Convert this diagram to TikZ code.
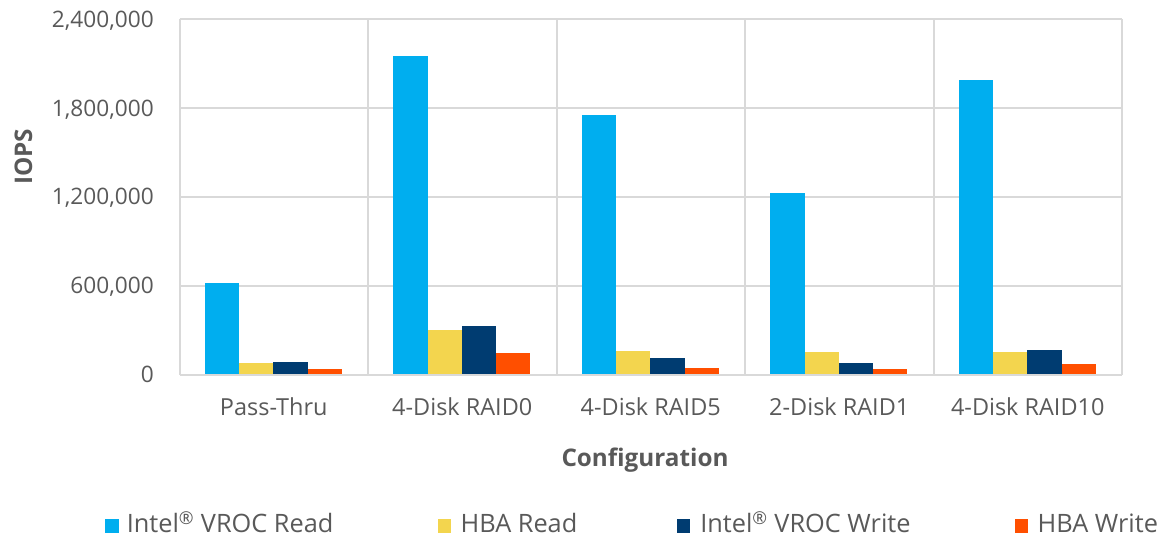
\documentclass[tikz,border=0pt]{standalone}
\usepackage{fontspec}
\setmainfont{Open Sans}
\definecolor{cblue}{HTML}{00AEEF}
\definecolor{cyellow}{HTML}{F3D54E}
\definecolor{cnavy}{HTML}{003C71}
\definecolor{corange}{HTML}{FF4F00}
\definecolor{cgrid}{HTML}{D9D9D9}
\definecolor{ctext}{HTML}{595959}
\begin{document}
\begin{tikzpicture}[x=0.75pt,y=-0.75pt,
  gridline/.style={draw=cgrid,line width=1.5pt},
  ticklbl/.style={anchor=base east,inner sep=0pt,text=ctext,font=\fontsize{17}{20}\selectfont},
  catlbl/.style={anchor=base,inner sep=0pt,text=ctext,font=\fontsize{17.6}{20}\selectfont},
  axtitle/.style={anchor=base,inner sep=0pt,text=ctext,font=\fontsize{18.2}{22}\selectfont\bfseries},
  legtext/.style={anchor=base west,inner sep=0pt,text depth=0pt,text=ctext,font=\fontsize{19}{22}\selectfont},
  legsq/.style={inner sep=0pt,minimum width=10.1pt,minimum height=10.1pt,anchor=north west}]
\useasboundingbox (0,0) rectangle (1161,537);
% horizontal gridlines
\foreach \y in {19,107.9,196.7,285.6} \draw[gridline] (179.5,\y) -- (1122,\y);
% vertical dividers
\foreach \i in {0,...,5} \draw[gridline] (179.5+188.5*\i,19) -- (179.5+188.5*\i,374.5);
% bars (values in thousands)
\foreach \a/\b/\c/\d [count=\i from 0] in {619/76/83/35, 2154/301/328/143, 1755/157/110/44, 1228/152/80/35, 1992/150/166/71}{
  \pgfmathsetmacro{\xo}{179.5+188.5*\i+25.2}
  \fill[cblue]   (\xo,374.5) rectangle ++(34.3,-\a*0.148);
  \fill[cyellow] (\xo+34.3,374.5) rectangle ++(34.3,-\b*0.148);
  \fill[cnavy]   (\xo+68.6,374.5) rectangle ++(34.3,-\c*0.148);
  \fill[corange] (\xo+102.9,374.5) rectangle ++(34.3,-\d*0.148);
}
% axis base line
\draw[gridline] (179.5,374.5) -- (1122,374.5);
% tick labels
\node[ticklbl] (t4) at (154,27) {2,400,000};
\node[ticklbl] (t3) at (154,116) {1,800,000};
\node[ticklbl] (t2) at (154,204.5) {1,200,000};
\node[ticklbl] (t1) at (154,293.5) {600,000};
\node[ticklbl] (t0) at (154,382) {0};
% category labels
\node[catlbl] (c1) at (273.75,415) {Pass-Thru};
\node[catlbl] (c2) at (462.25,415) {4-Disk RAID0};
\node[catlbl] (c3) at (650.75,415) {4-Disk RAID5};
\node[catlbl] (c4) at (839.25,415) {2-Disk RAID1};
\node[catlbl] (c5) at (1027.75,415) {4-Disk RAID10};
% axis titles
\node[axtitle] (xt) at (645,466) {Configuration};
\node[axtitle,rotate=90] (yt) at (32,157) {IOPS};
% legend
\node[legsq,fill=cblue]   (l1) at (105,519) {};
\node[legtext] (lt1) at (126.5,532.6) {Intel\textsuperscript{®} VROC Read};
\node[legsq,fill=cyellow] (l2) at (437.3,519) {};
\node[legtext] (lt2) at (460.4,532.6) {HBA Read};
\node[legsq,fill=cnavy]   (l3) at (676.5,519) {};
\node[legtext] (lt3) at (700,532.6) {Intel\textsuperscript{®} VROC Write};
\node[legsq,fill=corange] (l4) at (1014.3,519) {};
\node[legtext] (lt4) at (1037.4,532.6) {HBA Write};
\end{tikzpicture}
\end{document}
